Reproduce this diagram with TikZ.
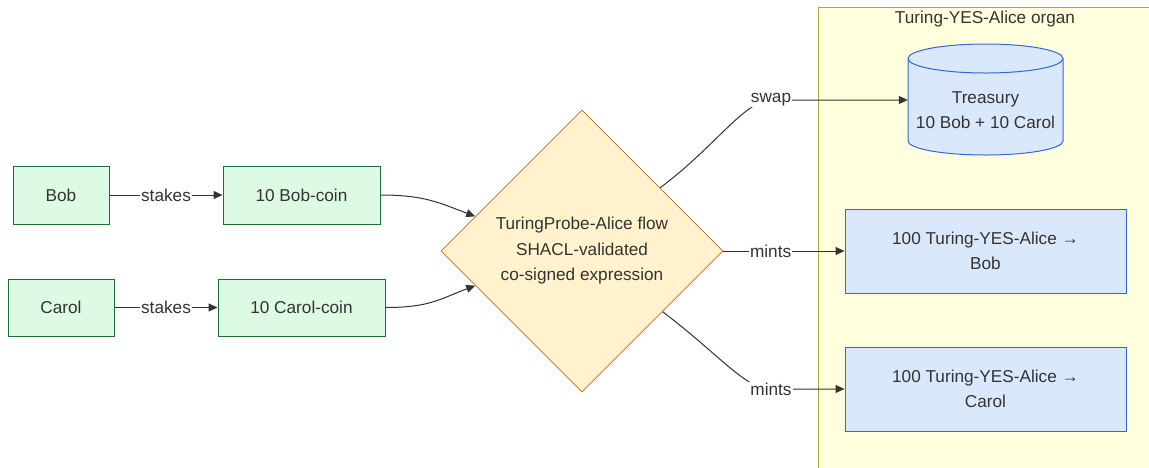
\documentclass[tikz,border=0pt]{standalone}
\usepackage{fontspec}
\setmainfont{Liberation Sans}
\usetikzlibrary{shapes.geometric,arrows.meta}
\definecolor{txt}{HTML}{333333}
\definecolor{gfill}{HTML}{DDFBE4}
\definecolor{gdraw}{HTML}{1E6B34}
\definecolor{yfill}{HTML}{FFF2CC}
\definecolor{ydraw}{HTML}{C86A1E}
\definecolor{bfill}{HTML}{DAE8FC}
\definecolor{bdraw}{HTML}{3366DD}
\definecolor{cfill}{HTML}{FFFFDE}
\definecolor{cdraw}{HTML}{AAAA33}
\tikzset{
  base/.style={font=\fontsize{17.2pt}{25.5pt}\selectfont, text=txt, inner sep=0pt, align=center},
  gbox/.style={base, draw=gdraw, fill=gfill, line width=1pt, minimum height=58pt},
  bbox/.style={base, draw=bdraw, fill=bfill, line width=1pt, minimum width=281pt, minimum height=84pt},
  dia/.style={base, shape=diamond, aspect=1, draw=ydraw, fill=yfill, line width=0.8pt, minimum width=282pt, minimum height=282pt},
  lbl/.style={base, fill=white, inner sep=1pt},
  edge/.style={draw=txt, line width=1pt, -{Triangle[length=9pt,width=8pt]}}
}
\begin{document}
\begin{tikzpicture}[x=1pt,y=-1pt]
\useasboundingbox (0,0) rectangle (1149,467);
\fill[white] (0,0) rectangle (1149,467);
% cluster
\draw[fill=cfill, draw=cdraw, line width=1pt] (818,7) rectangle (1170,490);
\node[base] (ctitle) at (985,19) {Turing-YES-Alice organ};
% left nodes
\node[gbox, minimum width=96pt] (bob) at (61,195) {Bob};
\node[gbox, minimum width=106pt, minimum height=57pt] (carol) at (61,307.5) {Carol};
\node[gbox, minimum width=157pt] (bc) at (301.5,195) {10 Bob-coin};
\node[gbox, minimum width=167pt, minimum height=57pt] (cc) at (301.5,307.5) {10 Carol-coin};
% diamond
\node[dia] (d) at (582,251) {TuringProbe-Alice flow\\SHACL-validated\\co-signed expression};
% treasury cylinder
\filldraw[fill=bfill, draw=bdraw, line width=1pt]
  (908,58.5) -- (908,141) arc (180:360:77.5pt and 14pt) -- (1063,58.5)
  arc (0:180:77.5pt and 14.5pt) -- cycle;
\draw[draw=bdraw, line width=1pt] (908,58.5) arc (180:360:77.5pt and 14.5pt);
\node[base, minimum width=155pt, minimum height=111pt] (tr) at (985.5,100) {};
\node[base] (trtext) at (985.5,110) {Treasury\\10 Bob + 10 Carol};
% mint boxes
\node[bbox] (mb) at (985.5,251) {100 Turing-YES-Alice →\\Bob};
\node[bbox] (mc) at (985.5,389) {100 Turing-YES-Alice →\\Carol};
% edges
\draw[edge] (bob.east) -- node[lbl]{stakes} (bc.west);
\draw[edge] (carol.east) -- node[lbl]{stakes} (cc.west);
\draw[edge] (bc.east) .. controls +(45,0) and +(-35,-13) .. (d.162);
\draw[edge] (cc.east) .. controls +(45,0) and +(-35,13) .. (d.-162);
\draw[edge] (d.39) .. controls (715,147) and (745,100) .. (771,100) node[lbl]{swap} -- (tr.west);
\draw[edge] (d.east) -- node[lbl, pos=0.39]{mints} (mb.west);
\draw[edge] (d.-37) .. controls (720,355) and (745,389) .. (771,389) node[lbl]{mints} -- (mc.west);
\end{tikzpicture}
\end{document}
